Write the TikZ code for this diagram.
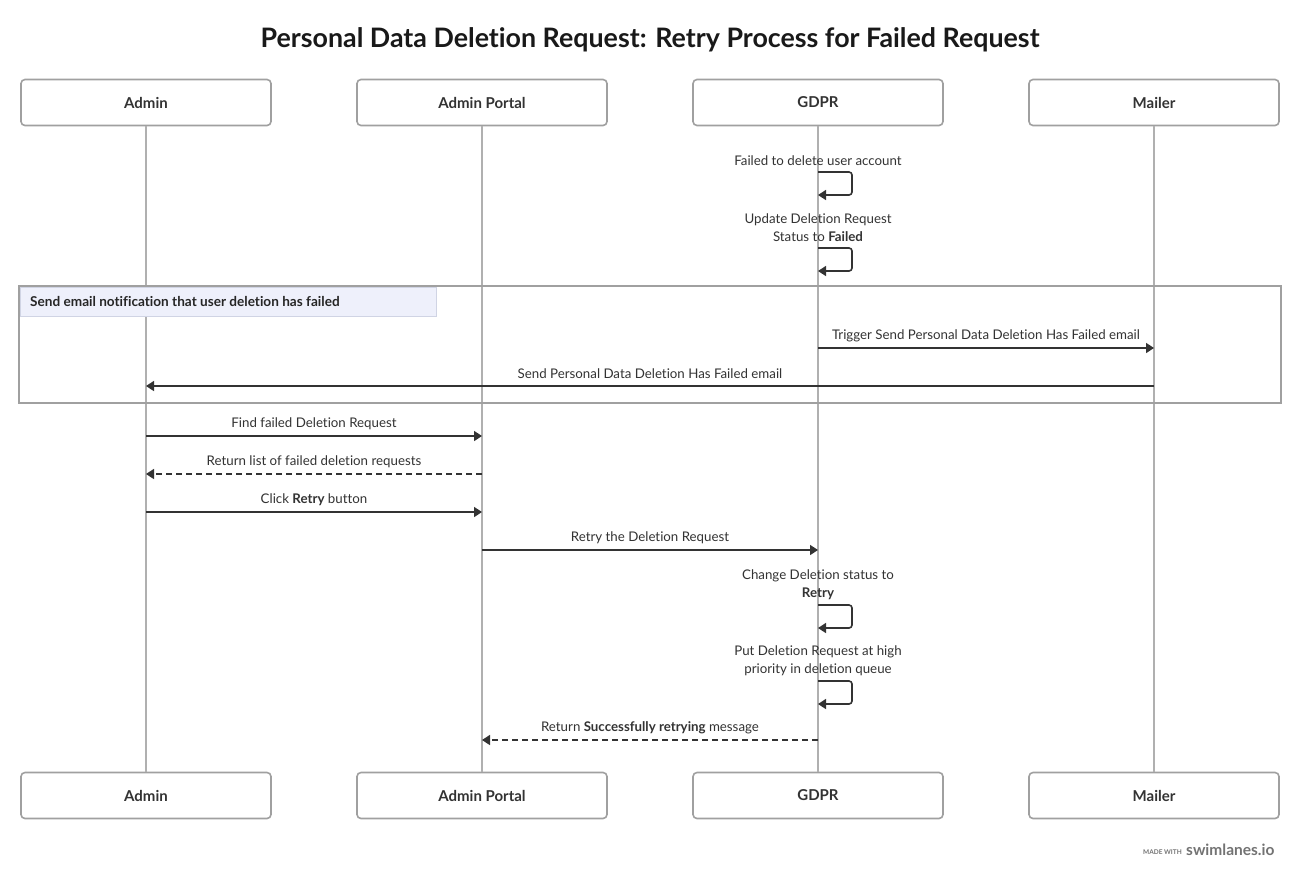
\documentclass[tikz,border=0pt]{standalone}
\usepackage{fontspec}
\setmainfont[Ligatures={NoCommon}]{Lato}
\usetikzlibrary{arrows.meta}
\definecolor{boxline}{HTML}{A0A0A0}
\definecolor{lifeline}{HTML}{B0B0B0}
\definecolor{ink}{HTML}{333333}
\definecolor{grouphead}{HTML}{EEF0FB}
\definecolor{groupheadline}{HTML}{D0D4E4}
\tikzset{
  part/.style={draw=boxline, line width=1.6pt, rounded corners=4pt, fill=white,
    minimum width=250pt, minimum height=46pt, inner sep=0pt,
    font=\fontsize{15}{17}\selectfont\bfseries, text=ink},
  life/.style={draw=lifeline, line width=1.8pt},
  msg/.style={draw=ink, line width=1.6pt, -{Triangle[length=8pt,width=10pt]}},
  ret/.style={msg, dash pattern=on 6pt off 4pt},
  lbl/.style={font=\fontsize{13.3}{18}\selectfont, text=ink, align=center, inner sep=0pt},
}
\begin{document}
\begin{tikzpicture}[x=1pt,y=-1pt]
\useasboundingbox[fill=white] (0,0) rectangle (1300,879);
\node[font=\fontsize{26.8}{32}\selectfont\bfseries, text=black!90] (title) at (650,40) {Personal Data Deletion Request: Retry Process for Failed Request};
% participants
\node[part] (adminT) at (146,102.5) {Admin};
\node[part] (portalT) at (482,102.5) {Admin Portal};
\node[part] (gdprT) at (818,102.5) {GDPR};
\node[part] (mailerT) at (1154,102.5) {Mailer};
\node[part] (adminB) at (146,795.5) {Admin};
\node[part] (portalB) at (482,795.5) {Admin Portal};
\node[part] (gdprB) at (818,795.5) {GDPR};
\node[part] (mailerB) at (1154,795.5) {Mailer};
% lifelines
\draw[life] (adminT.south) -- (adminB.north);
\draw[life] (portalT.south) -- (portalB.north);
\draw[life] (gdprT.south) -- (gdprB.north);
\draw[life] (mailerT.south) -- (mailerB.north);
% group
\node[draw=boxline, line width=1.6pt, minimum width=1262pt, minimum height=117pt, inner sep=0pt] (grp) at (650,344.5) {};
\node[draw=groupheadline, fill=grouphead, line width=0.8pt, minimum width=416pt, minimum height=29pt, inner sep=0pt, anchor=north west] (grphead) at (20,287) {};
\node[font=\fontsize{13.6}{15}\selectfont\bfseries, text=black!85, anchor=west, inner sep=0pt] (grplbl) at (30,301.5) {Send email notification that user deletion has failed};
% self loop 1
\node[lbl] (l1) at (818,161) {Failed to delete user account};
\coordinate (s1a) at (818,172); \coordinate (s1b) at (818,195);
\draw[msg, rounded corners=3pt] (s1a) -- ++(34,0) -- ++(0,23) -- (s1b);
% self loop 2
\node[lbl] (l2) at (818,228) {Update Deletion Request\\Status to \textbf{Failed}};
\coordinate (s2a) at (818,248); \coordinate (s2b) at (818,271);
\draw[msg, rounded corners=3pt] (s2a) -- ++(34,0) -- ++(0,23) -- (s2b);
% messages in group
\node[lbl] (l3) at (986,336) {Trigger Send Personal Data Deletion Has Failed email};
\coordinate (m3a) at (818,348); \coordinate (m3b) at (1154,348);
\draw[msg] (m3a) -- (m3b);
\node[lbl] (l4) at (650,374) {Send Personal Data Deletion Has Failed email};
\coordinate (m4a) at (1154,386); \coordinate (m4b) at (146,386);
\draw[msg] (m4a) -- (m4b);
% messages
\node[lbl] (l5) at (314,424) {Find failed Deletion Request};
\coordinate (m5a) at (146,436); \coordinate (m5b) at (482,436);
\draw[msg] (m5a) -- (m5b);
\node[lbl] (l6) at (314,462) {Return list of failed deletion requests};
\coordinate (m6a) at (482,474); \coordinate (m6b) at (146,474);
\draw[ret] (m6a) -- (m6b);
\node[lbl] (l7) at (314,500) {Click \textbf{Retry} button};
\coordinate (m7a) at (146,512); \coordinate (m7b) at (482,512);
\draw[msg] (m7a) -- (m7b);
\node[lbl] (l8) at (650,538) {Retry the Deletion Request};
\coordinate (m8a) at (482,550); \coordinate (m8b) at (818,550);
\draw[msg] (m8a) -- (m8b);
% self loop 3
\node[lbl] (l9) at (818,585) {Change Deletion status to\\\textbf{Retry}};
\coordinate (s3a) at (818,605); \coordinate (s3b) at (818,628);
\draw[msg, rounded corners=3pt] (s3a) -- ++(34,0) -- ++(0,23) -- (s3b);
% self loop 4
\node[lbl] (l10) at (818,661) {Put Deletion Request at high\\priority in deletion queue};
\coordinate (s4a) at (818,681); \coordinate (s4b) at (818,704);
\draw[msg, rounded corners=3pt] (s4a) -- ++(34,0) -- ++(0,23) -- (s4b);
% return
\node[lbl] (l11) at (650,728) {Return \textbf{Successfully retrying} message};
\coordinate (m11a) at (818,740); \coordinate (m11b) at (482,740);
\draw[ret] (m11a) -- (m11b);
% footer
\node[font=\fontsize{6.5}{8}\selectfont\bfseries, text=black!55, anchor=base east, inner sep=0pt] (made) at (1182,854) {MADE WITH};
\node[font=\fontsize{15.5}{18}\selectfont\bfseries, text=black!55, anchor=base west, inner sep=0pt] (brand) at (1186,855) {swimlanes.io};
\end{tikzpicture}
\end{document}
